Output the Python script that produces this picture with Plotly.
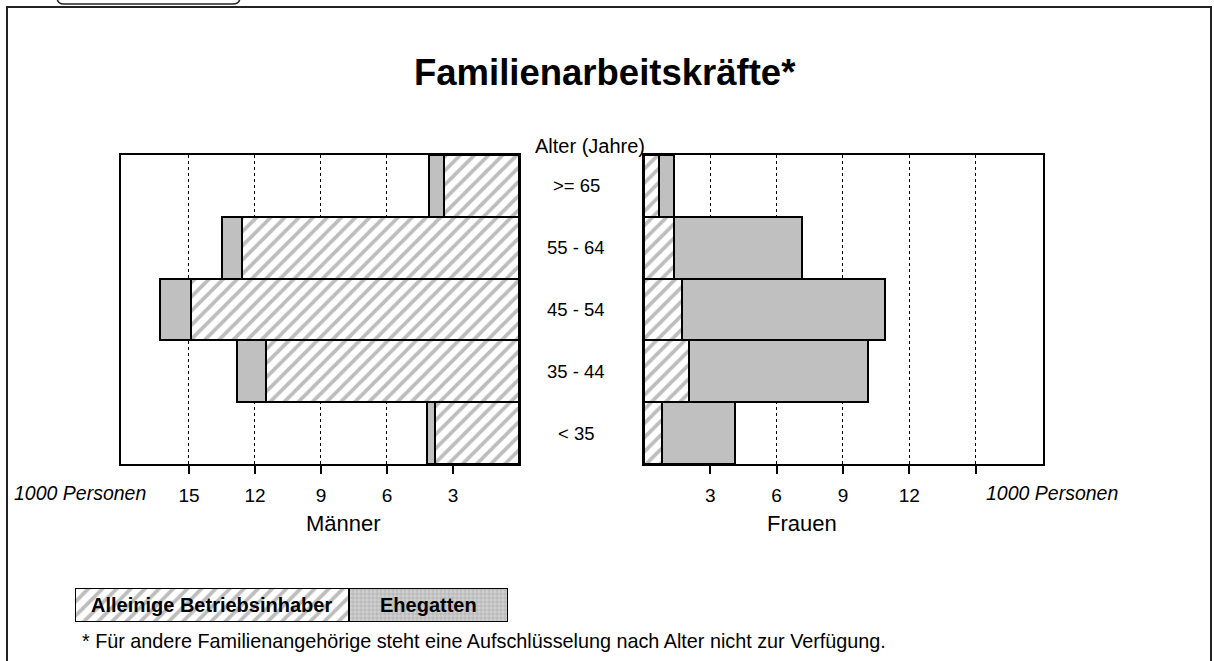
import plotly.graph_objects as go

# ---------------- data ----------------
age_groups = ["< 35", "35 - 44", "45 - 54", "55 - 64", ">= 65"]
men_owner = [3.8, 11.5, 14.9, 12.6, 3.4]      # Alleinige Betriebsinhaber (1000 Personen)
men_spouse = [0.4, 1.3, 1.4, 0.9, 0.7]        # Ehegatten
women_owner = [0.8, 2.05, 1.7, 1.35, 0.7]
women_spouse = [3.3, 8.1, 9.2, 5.8, 0.65]
tick_values = [3, 6, 9, 12, 15]
men_tick_text = ["3", "6", "9", "12", "15"]
women_tick_text = ["3", "6", "9", "12", ""]
series_names = ["Alleinige Betriebsinhaber", "Ehegatten"]
legend_shares = [0.632, 0.368]

title = "Familienarbeitskräfte*"
unit_label = "1000 Personen"
age_title = "Alter (Jahre)"
panel_titles = ["Männer", "Frauen"]
footnote = "* Für andere Familienangehörige steht eine Aufschlüsselung nach Alter nicht zur Verfügung."

# ---------------- layout helpers ----------------
W, H = 1214, 661
FONT = "Liberation Sans, Arial, sans-serif"


def px(x):
    return x / W


def py(y):
    return 1 - y / H


HATCH = dict(shape="/", fgcolor="#bdbdbd", bgcolor="white", size=10,
             solidity=0.38, fillmode="replace")
GREY = "#c0c0c0"
OUTLINE = dict(color="black", width=2)

fig = go.Figure()

# Men (left panel)
fig.add_trace(go.Bar(y=age_groups, x=men_owner, orientation="h", name=series_names[0],
                     marker=dict(color="white", pattern=HATCH, line=OUTLINE),
                     xaxis="x", yaxis="y", showlegend=False))
fig.add_trace(go.Bar(y=age_groups, x=men_spouse, orientation="h", name=series_names[1],
                     marker=dict(color=GREY, line=OUTLINE),
                     xaxis="x", yaxis="y", showlegend=False))
# Women (right panel)
fig.add_trace(go.Bar(y=age_groups, x=women_owner, orientation="h", name=series_names[0],
                     marker=dict(color="white", pattern=HATCH, line=OUTLINE),
                     xaxis="x2", yaxis="y2", showlegend=False))
fig.add_trace(go.Bar(y=age_groups, x=women_spouse, orientation="h", name=series_names[1],
                     marker=dict(color=GREY, line=OUTLINE),
                     xaxis="x2", yaxis="y2", showlegend=False))

# Custom legend box (own small axes)
fig.add_trace(go.Bar(y=[0], x=[legend_shares[0]], orientation="h", width=1,
                     marker=dict(color="white", pattern=HATCH, line=OUTLINE),
                     xaxis="x3", yaxis="y3", showlegend=False, hoverinfo="skip"))
fig.add_trace(go.Bar(y=[0], x=[legend_shares[1]], orientation="h", width=1,
                     marker=dict(color=GREY, line=OUTLINE,
                                 pattern=dict(shape="+", fgcolor="#9a9a9a", bgcolor="#cfcfcf",
                                              size=4, solidity=0.2, fillmode="replace")),
                     xaxis="x3", yaxis="y3", showlegend=False, hoverinfo="skip"))

common_x = dict(showline=True, mirror=True, linecolor="black", linewidth=2,
                showgrid=True, gridcolor="black", gridwidth=1, griddash="dot",
                zeroline=False, tickvals=tick_values, ticks="outside", ticklen=8,
                tickwidth=1.5, tickcolor="black", ticklabelstandoff=5,
                tickfont=dict(family=FONT, size=19, color="black"), fixedrange=True)
common_y = dict(showline=True, mirror=True, linecolor="black", linewidth=2,
                showgrid=False, zeroline=False, showticklabels=False, ticks="",
                categoryorder="array", categoryarray=age_groups, range=[-0.5, 4.5],
                fixedrange=True)

fig.update_layout(
    width=W, height=H, autosize=False,
    margin=dict(l=0, r=0, t=0, b=0),
    paper_bgcolor="white", plot_bgcolor="white",
    barmode="stack", bargap=0,
    font=dict(family=FONT, color="black"),
    xaxis=dict(domain=[px(121), px(519)], range=[18.09, 0], ticktext=men_tick_text,
               anchor="y", **common_x),
    yaxis=dict(domain=[py(464), py(155)], anchor="x", **common_y),
    xaxis2=dict(domain=[px(644), px(1043)], range=[0, 18.05], ticktext=women_tick_text,
                anchor="y2", **common_x),
    yaxis2=dict(domain=[py(464), py(155)], anchor="x2", **common_y),
    xaxis3=dict(domain=[px(75), px(508)], range=[0, 1], visible=False, anchor="y3",
                fixedrange=True),
    yaxis3=dict(domain=[py(622), py(588)], range=[-0.5, 0.5], visible=False, anchor="x3",
                fixedrange=True),
)

C = dict(showarrow=False, xanchor="center", yanchor="middle")
ann = []
ann.append(dict(text=f"<b>{title}</b>", x=px(605), y=py(73), xref="paper", yref="paper",
                font=dict(size=36.5, family=FONT), **C))
ann.append(dict(text=age_title, x=px(590), y=py(146), xref="paper", yref="paper",
                font=dict(size=20, family=FONT), **C))
for g in age_groups:
    ann.append(dict(text=g, x=px(576), y=g, xref="paper", yref="y",
                    font=dict(size=18.5, family=FONT), **C))
ann.append(dict(text=f"<i>{unit_label}</i>", x=px(80), y=py(493), xref="paper", yref="paper",
                font=dict(size=19.5, family=FONT), **C))
ann.append(dict(text=f"<i>{unit_label}</i>", x=px(1052), y=py(493), xref="paper", yref="paper",
                font=dict(size=19.5, family=FONT), **C))
ann.append(dict(text=panel_titles[0], x=px(343), y=py(523), xref="paper", yref="paper",
                font=dict(size=22, family=FONT), **C))
ann.append(dict(text=panel_titles[1], x=px(802), y=py(523), xref="paper", yref="paper",
                font=dict(size=22, family=FONT), **C))
ann.append(dict(text=f"<b>{series_names[0]}</b>", x=legend_shares[0] / 2, y=0,
                xref="x3", yref="y3", font=dict(size=20, family=FONT), **C))
ann.append(dict(text=f"<b>{series_names[1]}</b>", x=legend_shares[0] + legend_shares[1] / 2,
                y=0, xref="x3", yref="y3", font=dict(size=20, family=FONT), **C))
ann.append(dict(text=footnote, x=px(80), y=py(641), xref="paper", yref="paper",
                xanchor="left", yanchor="middle", showarrow=False,
                font=dict(size=19.8, family=FONT)))
fig.update_layout(annotations=ann)

# outer frame and the top tab
shapes = [
    dict(type="path", xref="paper", yref="paper",
         path=f"M {px(7)},{py(700)} L {px(7)},{py(7)} L {px(1211)},{py(7)} L {px(1211)},{py(700)}",
         line=dict(color="#222", width=2)),
    dict(type="path", xref="paper", yref="paper",
         path=(f"M {px(57)},{py(-10)} L {px(57)},{py(-3)} Q {px(57)},{py(4)} {px(64)},{py(4)} "
               f"L {px(233)},{py(4)} Q {px(240)},{py(4)} {px(240)},{py(-3)} L {px(240)},{py(-10)}"),
         line=dict(color="#222", width=1.5)),
]
fig.update_layout(shapes=shapes)

fig.write_html("out.html", config={"displayModeBar": False},
               post_script="document.body.style.margin='0';document.body.style.overflow='hidden';")
